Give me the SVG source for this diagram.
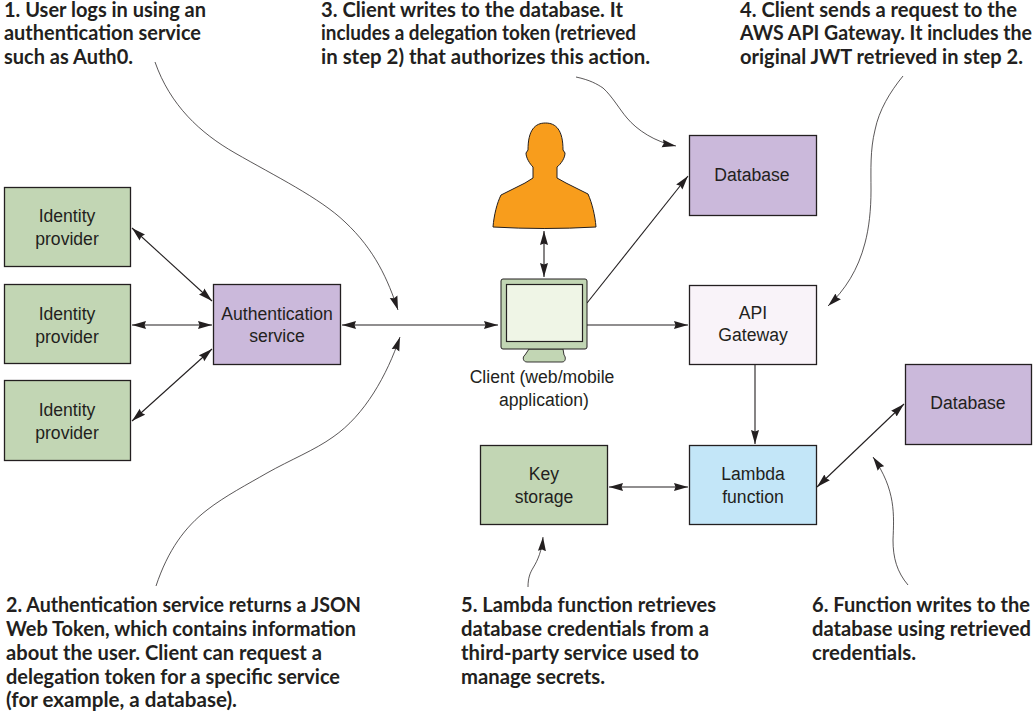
<svg xmlns="http://www.w3.org/2000/svg" width="1036" height="712" viewBox="0 0 1036 712">
<style>
.b{stroke:#231f20;stroke-width:1.3}
.g{fill:#c2d6b4}.p{fill:#cbb9db}.w{fill:#f9f3f9}.l{fill:#c3e6f8}
.t{font-family:"Liberation Sans",Arial,sans-serif;font-size:17.6px;fill:#231f20;text-anchor:middle}
.n{font-family:Lato,"Liberation Sans",sans-serif;font-weight:700;font-size:20px;fill:#231f20}
.c{fill:none;stroke:#231f20;stroke-width:1.1}
.s{fill:none;stroke:#231f20;stroke-width:.75}
</style>
<defs>
<marker id="e" markerUnits="userSpaceOnUse" markerWidth="14" markerHeight="9" refX="14" refY="4.500" orient="auto-start-reverse"><path d="M0 .5L14 4.500L0 8.500L1.500 4.500Z" fill="#231f20"/></marker>
</defs>
<g id="connectors">
<path class="c" marker-start="url(#e)" marker-end="url(#e)" d="M132 228L212 301"/>
<path class="c" marker-start="url(#e)" marker-end="url(#e)" d="M132 325H212"/>
<path class="c" marker-start="url(#e)" marker-end="url(#e)" d="M132 421L212 349"/>
<path class="c" marker-start="url(#e)" marker-end="url(#e)" d="M342 325H498"/>
<path class="c" marker-start="url(#e)" marker-end="url(#e)" d="M544 231V277"/>
<path class="c" marker-end="url(#e)" d="M587 303L688 176"/>
<path class="c" marker-end="url(#e)" d="M587 325H688"/>
<path class="c" marker-end="url(#e)" d="M755 364V444"/>
<path class="c" marker-start="url(#e)" marker-end="url(#e)" d="M609 487H688"/>
<path class="c" marker-start="url(#e)" marker-end="url(#e)" d="M817 487L904 404"/>
<path class="s" marker-end="url(#e)" d="M155 62C170 105 200 133 235 153C275 176 320 198 345 222C375 250 388 280 398 310"/>
<path class="s" marker-end="url(#e)" d="M156 586C168 550 185 527 207 510C225 496 248 484 267 473C290 460 315 450 333 437C365 415 387 375 400 337"/>
<path class="s" marker-end="url(#e)" d="M576 77C590 80 597 84 603 88C612 96 620 110 627 118C637 130 655 142 676 146"/>
<path class="s" marker-end="url(#e)" d="M903 76C890 92 879 110 875 130C870 150 871 170 871 190C871 210 869 228 865 243C858 270 845 290 828 306"/>
<path class="s" marker-end="url(#e)" d="M528 587C528 578 530 573 533 568C538 560 542 550 543 537"/>
<path class="s" marker-end="url(#e)" d="M908 585C897 572 893 558 893 540C894 515 896 490 873 457"/>
</g>
<g id="idp1"><rect class="b g" x="4.500" y="187.500" width="126" height="79"/><text class="t" x="67" y="222">Identity</text><text class="t" x="67" y="245">provider</text></g>
<g id="idp2"><rect class="b g" x="4.500" y="284.500" width="126" height="79"/><text class="t" x="67" y="320">Identity</text><text class="t" x="67" y="343">provider</text></g>
<g id="idp3"><rect class="b g" x="4.500" y="380.500" width="126" height="80"/><text class="t" x="67" y="416">Identity</text><text class="t" x="67" y="439">provider</text></g>
<g id="auth"><rect class="b p" x="213.500" y="284.500" width="127" height="80"/><text class="t" x="277" y="320">Authentication</text><text class="t" x="277" y="342">service</text></g>
<g id="user"><path d="M493 227C494 215 497 203 501 195L525 183L533 178V167C530 164 526 158 526 153L528 150C528 130 535 123 545.500 123C556 123 563 130 563 150L565 153C565 158 561 164 557 167V178L566 183L588 194C592 203 595 215 596 227C560 229 528 229 493 227Z" fill="#f89d1c" stroke="#231f20" stroke-width="1"/></g>
<g id="client">
<path d="M529 349H563L564 355C566 357 566 362 562 362H527C523 362 522 357 525 355Z" fill="#c2d6b4" stroke="#231f20" stroke-width=".9"/>
<rect x="501" y="279" width="86" height="70" rx="2" fill="#c2d6b4" stroke="#231f20" stroke-width="1"/>
<rect x="506.500" y="284.500" width="76" height="57" fill="#eff5e6" stroke="#231f20" stroke-width="1.200"/>
<text class="t" x="542" y="383">Client (web/mobile</text><text class="t" x="544" y="406">application)</text>
</g>
<g id="db1"><rect class="b p" x="689.500" y="135.500" width="127" height="80"/><text class="t" x="752" y="181">Database</text></g>
<g id="api"><rect class="b w" x="689.500" y="285.500" width="127" height="79"/><text class="t" x="753" y="319">API</text><text class="t" x="753" y="341">Gateway</text></g>
<g id="lambda"><rect class="b l" x="689.500" y="445.500" width="127" height="79"/><text class="t" x="753" y="480">Lambda</text><text class="t" x="753" y="503">function</text></g>
<g id="key"><rect class="b g" x="480.500" y="445.500" width="127" height="79"/><text class="t" x="544" y="480">Key</text><text class="t" x="544" y="503">storage</text></g>
<g id="db2"><rect class="b p" x="905.500" y="364.500" width="126" height="80"/><text class="t" x="968" y="409">Database</text></g>
<g id="notes">
<text class="n" x="4" y="17" textLength="202" lengthAdjust="spacingAndGlyphs">1. User logs in using an</text>
<text class="n" x="4" y="40" textLength="197" lengthAdjust="spacingAndGlyphs">authentication service</text>
<text class="n" x="4" y="64" textLength="129" lengthAdjust="spacingAndGlyphs">such as Auth0.</text>
<text class="n" x="321" y="17" textLength="302" lengthAdjust="spacingAndGlyphs">3. Client writes to the database. It</text>
<text class="n" x="321" y="40" textLength="315" lengthAdjust="spacingAndGlyphs">includes a delegation token (retrieved</text>
<text class="n" x="321" y="64" textLength="329" lengthAdjust="spacingAndGlyphs">in step 2) that authorizes this action.</text>
<text class="n" x="740" y="17" textLength="277" lengthAdjust="spacingAndGlyphs">4. Client sends a request to the</text>
<text class="n" x="740" y="40" textLength="292" lengthAdjust="spacingAndGlyphs">AWS API Gateway. It includes the</text>
<text class="n" x="740" y="64" textLength="283" lengthAdjust="spacingAndGlyphs">original JWT retrieved in step 2.</text>
<text class="n" x="6" y="612" textLength="355" lengthAdjust="spacingAndGlyphs">2. Authentication service returns a JSON</text>
<text class="n" x="6" y="636" textLength="350" lengthAdjust="spacingAndGlyphs">Web Token, which contains information</text>
<text class="n" x="6" y="660" textLength="316" lengthAdjust="spacingAndGlyphs">about the user. Client can request a</text>
<text class="n" x="6" y="684" textLength="334" lengthAdjust="spacingAndGlyphs">delegation token for a specific service</text>
<text class="n" x="6" y="707" textLength="231" lengthAdjust="spacingAndGlyphs">(for example, a database).</text>
<text class="n" x="461" y="612" textLength="255" lengthAdjust="spacingAndGlyphs">5. Lambda function retrieves</text>
<text class="n" x="461" y="636" textLength="248" lengthAdjust="spacingAndGlyphs">database credentials from a</text>
<text class="n" x="461" y="660" textLength="238" lengthAdjust="spacingAndGlyphs">third-party service used to</text>
<text class="n" x="461" y="684" textLength="144" lengthAdjust="spacingAndGlyphs">manage secrets.</text>
<text class="n" x="812" y="612" textLength="218" lengthAdjust="spacingAndGlyphs">6. Function writes to the</text>
<text class="n" x="812" y="636" textLength="219" lengthAdjust="spacingAndGlyphs">database using retrieved</text>
<text class="n" x="812" y="660" textLength="104" lengthAdjust="spacingAndGlyphs">credentials.</text>
</g>
</svg>
